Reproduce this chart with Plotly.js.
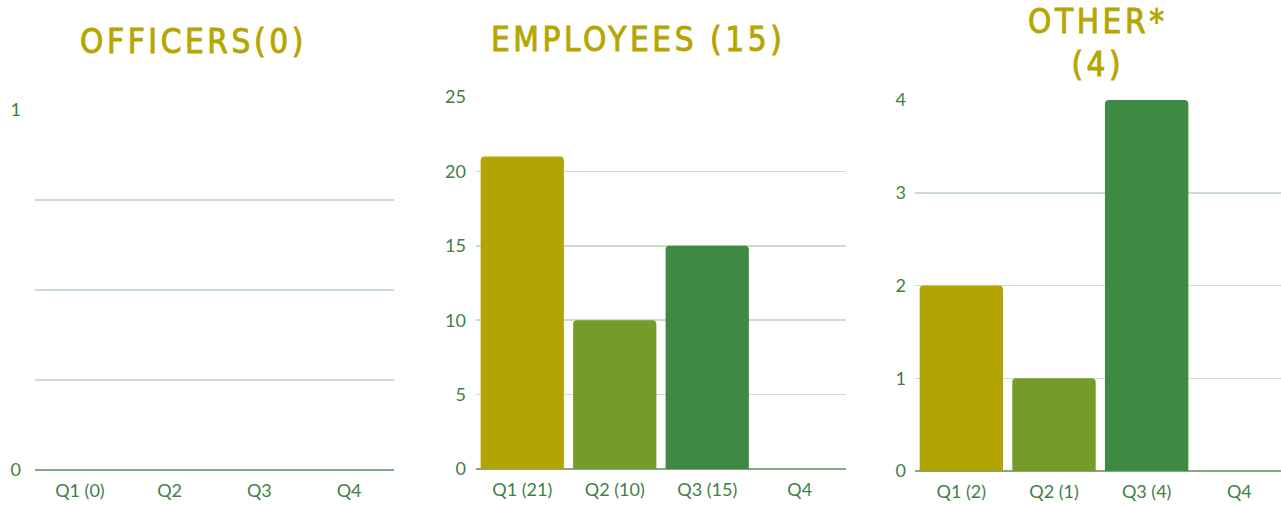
<!DOCTYPE html>
<html>
<head>
<meta charset="utf-8">
<script src="https://cdn.plot.ly/plotly-3.0.1.min.js"></script>
<style>
  html, body { margin: 0; padding: 0; background: #fff; }
  #chart { width: 1281px; height: 506px; }
  .annotation-text { letter-spacing: 3.6px; stroke: #b5a600; stroke-width: 0.9px; }
</style>
</head>
<body>
<div id="chart"></div>
<script>
// ---- data ----
const officerLabels  = ['Q1 (0)', 'Q2', 'Q3', 'Q4'];
const officerValues  = [0, 0, 0, 0];
const employeeLabels = ['Q1 (21)', 'Q2 (10)', 'Q3 (15)', 'Q4'];
const employeeValues = [21, 10, 15, 0];
const otherLabels    = ['Q1 (2)', 'Q2 (1)', 'Q3 (4)', 'Q4'];
const otherValues    = [2, 1, 4, 0];
const panelTitles    = ['OFFICERS(0)', 'EMPLOYEES (15)', 'OTHER*<br>(4)'];
const officerTicks   = [0, 1];
const employeeTicks  = [0, 5, 10, 15, 20, 25];
const otherTicks     = [0, 1, 2, 3, 4];

// ---- style ----
const barColors = ['#b3a405', '#759b29', '#3e8a42', '#3e8a42'];
const tickColor = '#3f8045';
const gridColor = '#cadfcb';
const zeroColor = '#82aa82';
const titleColor = '#b5a600';
const tickFont = { family: 'Lato, sans-serif', size: 18, color: tickColor };
const titleFont = { family: 'DejaVu Sans Condensed, DejaVu Sans', size: 33, color: titleColor };

function bar(x, y, xa, ya) {
  return {
    type: 'bar', x: x, y: y, xaxis: xa, yaxis: ya,
    marker: { color: barColors, line: { width: 0 } },
    hoverinfo: 'none', showlegend: false
  };
}

const data = [
  bar(officerLabels, officerValues, 'x', 'y'),
  bar(employeeLabels, employeeValues, 'x2', 'y2'),
  bar(otherLabels, otherValues, 'x3', 'y3')
];

function xax(domain, anchor) {
  return {
    domain: domain, anchor: anchor, type: 'category',
    showgrid: false, showline: false, zeroline: false, ticks: '',
    tickfont: tickFont, ticklabelstandoff: 8, fixedrange: true
  };
}
function yax(domain, anchor, range, ticks, standoff) {
  return {
    domain: domain, anchor: anchor, range: range,
    tickvals: ticks, showgrid: true, gridcolor: gridColor, gridwidth: 1.5,
    zeroline: true, zerolinecolor: zeroColor, zerolinewidth: 2.5,
    showline: false, ticks: '', tickfont: tickFont, ticklabelstandoff: standoff,
    fixedrange: true
  };
}

const W = 1281, H = 506;
const px = v => v / W;
const py = v => 1 - v / H;

const y1 = yax([py(470), py(110)], 'x', [0, 1], officerTicks, 13);
y1.showgrid = false;
y1.minor = { tickvals: [0.25, 0.5, 0.75], showgrid: true, gridcolor: gridColor, gridwidth: 1.5 };

const x3 = xax([px(915), px(1281)], 'y3');
x3.range = [-0.5, 3.45];

function title(i, x, y) {
  return { text: panelTitles[i], x: px(x), y: py(y), xref: 'paper', yref: 'paper',
    xanchor: 'center', yanchor: 'middle', showarrow: false, font: titleFont };
}

const layout = {
  width: W, height: H,
  margin: { l: 0, r: 0, t: 0, b: 0 },
  paper_bgcolor: '#ffffff', plot_bgcolor: '#ffffff',
  bargap: 0.1,
  barcornerradius: 4,
  xaxis:  xax([px(35), px(394)], 'y'),
  yaxis:  y1,
  xaxis2: xax([px(476), px(846)], 'y2'),
  yaxis2: yax([py(469), py(97)], 'x2', [0, 25], employeeTicks, 9),
  xaxis3: x3,
  yaxis3: yax([py(471), py(100)], 'x3', [0, 4], otherTicks, 8),
  annotations: [ title(0, 193, 42), title(1, 638, 40), title(2, 1098, 43) ]
};

Plotly.newPlot('chart', data, layout, { displayModeBar: false, staticPlot: true });
</script>
</body>
</html>
